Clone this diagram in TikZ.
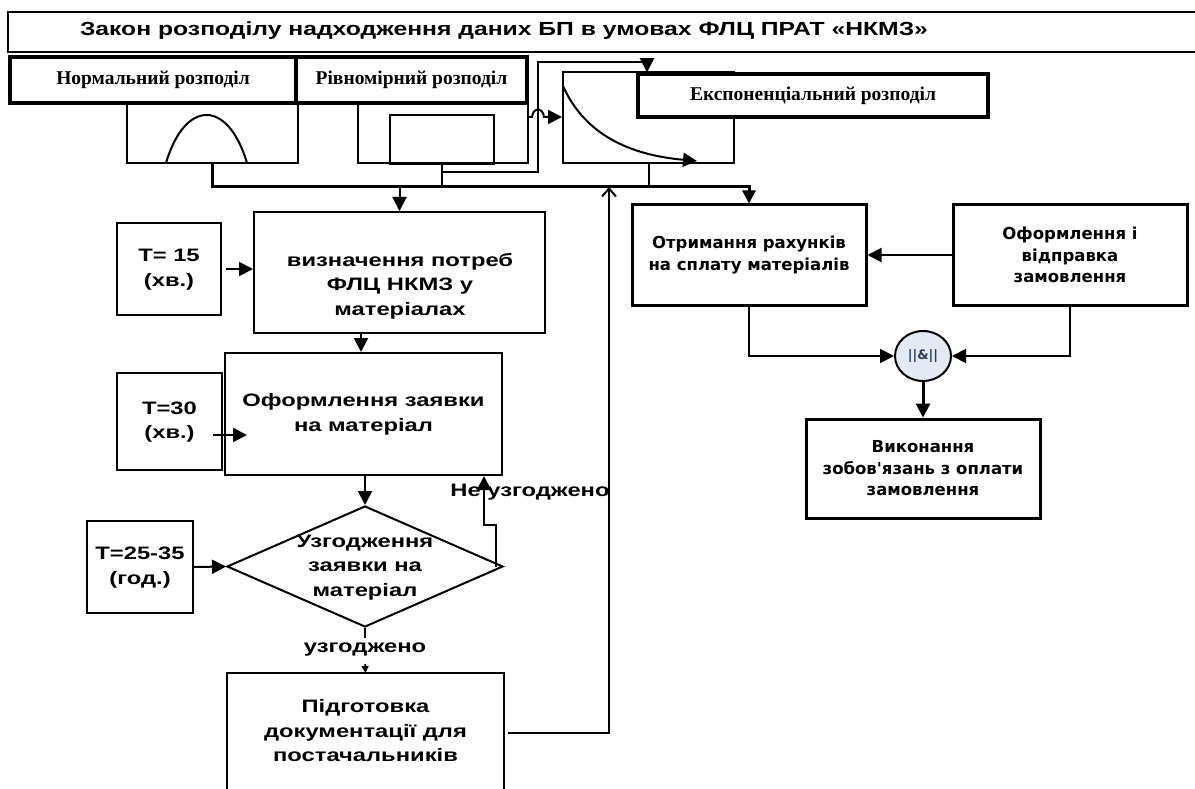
\documentclass[tikz,border=0pt]{standalone}
\usepackage{fontspec}
\setmainfont{Liberation Sans}
\newfontfamily\serifb{Liberation Serif}
\newfontfamily\dvs{DejaVu Sans}
\usetikzlibrary{arrows.meta,shapes.geometric}
\definecolor{andfill}{HTML}{E3EAF4}
\definecolor{andtext}{HTML}{2F3A5A}
\newcommand\wtx[1]{\scalebox{1.32}[1]{\begin{tabular}{@{}c@{}}#1\end{tabular}}}
\begin{document}
\begin{tikzpicture}[x=1pt,y=-1pt,
  flow/.style={draw, line width=2pt, inner sep=0pt, align=center, font=\bfseries\fontsize{18}{24.5}\selectfont},
  ftext/.style={inner sep=0pt, align=center, font=\bfseries\fontsize{18}{24.5}\selectfont},
  lbl/.style={draw, line width=3.5pt, inner sep=0pt, font=\serifb\bfseries\fontsize{19.5}{22}\selectfont},
  plot/.style={draw, line width=2pt, inner sep=0pt},
  rbox/.style={draw, line width=3pt, inner sep=0pt, align=center, font=\dvs\bfseries\fontsize{16.5}{21.5}\selectfont},
  ln/.style={line width=2pt},
  tip/.style={-{Triangle[length=14pt,width=14pt]}},
  arr/.style={line width=2pt, tip},
  bus/.style={line width=3pt}]
\useasboundingbox (0,0) rectangle (1195,789);
% title
\draw[line width=2pt] (1200,12) -- (8,12) -- (8,52) -- (1200,52);
\node[inner sep=0pt, font=\bfseries\fontsize{19}{20}\selectfont] (title) at (504,31) {\scalebox{1.3}[1]{Закон розподілу надходження даних БП в умовах ФЛЦ ПРАТ «НКМЗ»}};
% distribution plots
\node[plot, minimum width=171pt, minimum height=60pt] (pnorm) at (212.5,133) {};
\draw[ln] (166,163) .. controls (185,99) and (228,99) .. (247,163);
\node[plot, minimum width=170pt, minimum height=60pt] (punif) at (443,133) {};
\node[plot, minimum width=104pt, minimum height=49pt] (urect) at (442,139.5) {};
\node[plot, minimum width=171pt, minimum height=91pt] (pexp) at (648.5,117.5) {};
\draw[ln, tip] (563,86) .. controls (585,135) and (630,155) .. (697,161);
% labels
\node[lbl, minimum width=286pt, minimum height=46pt] (lnorm) at (153,80) {Нормальний розподіл};
\node[lbl, minimum width=231pt, minimum height=46pt] (lunif) at (411.5,80) {Рівномірний розподіл};
\node[lbl, fill=white, minimum width=350pt, minimum height=43pt] (lexp) at (813,95.5) {Експоненціальний розподіл};
% left flow
\node[flow, minimum width=291pt, minimum height=121pt] (visn) at (399.5,272.5) {};
\node[ftext] (visnt) at (400,286) {\wtx{визначення потреб\\ФЛЦ НКМЗ у\\матеріалах}};
\node[flow, minimum width=104pt, minimum height=92pt] (t15) at (169,269) {\wtx{Т= 15\\(хв.)}};
\node[flow, minimum width=277pt, minimum height=122pt] (oform) at (363.5,414) {\wtx{Оформлення заявки\\на матеріал}};
\node[flow, minimum width=105pt, minimum height=97pt] (t30) at (169.5,421.5) {\wtx{Т=30\\(хв.)}};
\node[flow, diamond, minimum width=276pt, minimum height=121pt] (agree) at (365,566.5) {};
\node[ftext] (agreet) at (365,567) {\wtx{Узгодження\\заявки на\\матеріал}};
\node[flow, minimum width=106pt, minimum height=92pt] (t2535) at (140,567) {\wtx{Т=25-35\\ (год.)}};
\draw[line width=2pt] (227,800) -- (227,673) -- (504,673) -- (504,800);
\coordinate (pidgtop) at (365.5,673);
\node[ftext] (pidgt) at (365.5,732.5) {\wtx{Підготовка\\документації для\\постачальників}};
% right part
\node[rbox, minimum width=234pt, minimum height=100pt] (otr) at (749,255) {Отримання рахунків\\на сплату матеріалів};
\node[rbox, minimum width=234pt, minimum height=100pt] (ofi) at (1070,255) {Оформлення і\\відправка\\замовлення};
\node[ellipse, draw, line width=2pt, fill=andfill, minimum width=56pt, minimum height=50pt, inner sep=0pt, text=andtext, font=\dvs\bfseries\fontsize{13}{13}\selectfont] (and) at (923,356) {||\&||};
\node[rbox, minimum width=234pt, minimum height=99pt] (vyk) at (923,468.5) {Виконання\\зобов'язань з оплати\\замовлення};
% bus and connectors at top
\coordinate (busL) at (212.5,187);
\draw[bus, -{Triangle[length=13pt,width=13pt]}] (pnorm.south) -- (busL) -| (otr.north);
\draw[arr] (busL -| visn.north) -- (visn.north);
\draw[ln] (urect.south) -- (busL -| urect.south);
\draw[ln] (pexp.south) -- (busL -| pexp.south);
\coordinate (j1) at (443,172);
\coordinate (j2) at (538,62);
\coordinate (e1) at (647,62);
\draw[arr] (j1) -| (j2) -- (e1) -- (e1 |- lexp.north);
\coordinate (h0) at (528,117);
\draw[arr] (h0) -- (532,117) .. controls (533,107) and (543,107) .. (544,117) -- (pexp.west |- h0);
% left flow connectors
\draw[arr] ([xshift=4pt]t15.east) -- (visn.west |- t15.east);
\draw[arr] (visn.south -| 361,0) -- (oform.north -| 361,0);
\draw[arr] (213,435) -- (247,435);
\draw[arr] (oform.south -| agree.north) -- (agree.north);
\draw[arr] (t2535.east) -- (agree.west);
\node[ftext] (notag) at (530,492) {\scalebox{1.32}[1]{Не узгоджено}};
\coordinate (n0) at (496,567);
\coordinate (n1) at (484,525);
\draw[arr] (n0) |- (n1) -- (oform.south -| n1);
\node[ftext] (ag) at (365,650) {\scalebox{1.32}[1]{узгоджено}};
\draw[line width=1.5pt] (agree.south) -- (365,638);
\draw[line width=1.5pt, -{Triangle[length=7pt,width=7pt]}] (365,664) -- (pidgtop);
\coordinate (u0) at (508,733);
\coordinate (u1) at (609,187);
\draw[line width=2pt, -{Straight Barb[length=8pt,width=14pt]}] (u0) -| (u1);
% right connectors
\draw[arr] (ofi.west) -- (otr.east);
\draw[arr] (otr.south) |- (and.west);
\draw[arr] (ofi.south) |- (and.east);
\draw[line width=3pt, tip] (and.south) -- (vyk.north);
\end{tikzpicture}
\end{document}
